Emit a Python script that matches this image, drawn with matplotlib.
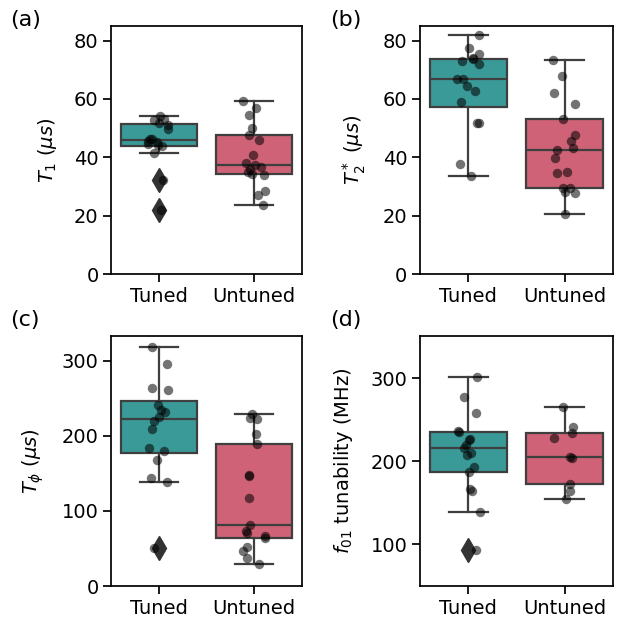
import matplotlib
matplotlib.use("Agg")
import matplotlib.pyplot as plt
import seaborn as sns
import numpy as np
import pandas as pd

categories = ["Tuned", "Untuned"]

t1_tuned = [54.3, 53.1, 52.8, 51.6, 51.2, 49.7, 46.4, 46.1, 45.7, 45.1, 44.5, 44.1, 43.8, 41.4, 32.2, 21.9]
t1_untuned = [59.4, 56.8, 54.5, 50.2, 47.8, 45.8, 40.9, 37.9, 37.2, 36.6, 35.9, 35.1, 34.3, 34.1, 28.4, 27.0, 23.7]

t2_tuned = [82.0, 77.4, 75.5, 74.0, 73.8, 72.9, 72.0, 67.0, 66.8, 64.4, 62.7, 59.0, 51.6, 51.6, 37.7, 33.7]
t2_untuned = [73.2, 68.0, 61.9, 58.4, 53.1, 47.5, 45.6, 43.3, 42.6, 39.7, 34.9, 34.5, 29.5, 29.4, 28.1, 27.8, 20.6]

tphi_tuned = [318.3, 296.0, 263.5, 261.2, 241.2, 234.5, 232.3, 224.7, 219.8, 209.1, 184.2, 180.2, 167.3, 144.5, 138.3, 50.1]
tphi_untuned = [229.2, 223.4, 222.5, 202.0, 189.5, 148.1, 146.8, 117.8, 81.7, 72.8, 70.0, 66.6, 64.4, 51.9, 46.5, 37.2, 29.6]

f01_tuned = [301.2, 278.0, 258.0, 236.4, 235.2, 227.2, 226.0, 219.2, 216.0, 210.0, 207.2, 193.2, 187.2, 166.8, 164.0, 139.2, 93.2]
f01_untuned = [265.2, 241.2, 234.0, 228.0, 205.2, 204.4, 172.4, 164.4, 154.4]

panel_labels = ["(a)", "(b)", "(c)", "(d)"]
ylabels = [r"$T_1$ ($\mu s$)", r"$T_2^*$ ($\mu s$)", r"$T_\phi$ ($\mu s$)", r"$f_{01}$ tunability (MHz)"]
ylims = [(0, 85), (0, 85), (0, 333), (50, 351)]
yticks = [[0, 20, 40, 60, 80], [0, 20, 40, 60, 80], [0, 100, 200, 300], [100, 200, 300]]

colors = ["#3a9a98", "#cf6276"]
edge = "#3f3f3f"

plt.rcParams["font.family"] = ["DejaVu Sans"]
plt.rcParams["font.size"] = 14
plt.rcParams["mathtext.fontset"] = "dejavusans"

fig = plt.figure(figsize=(6.3, 6.22), dpi=100)
rects = [
    (111, 26, 302, 274),
    (420, 26, 613, 274),
    (111, 336, 302, 586),
    (420, 336, 613, 586),
]
W, H = 630, 622
datasets = [(t1_tuned, t1_untuned), (t2_tuned, t2_untuned),
            (tphi_tuned, tphi_untuned), (f01_tuned, f01_untuned)]
label_pos = [(10, 10), (330, 10), (10, 310), (330, 310)]

for i, (r, (dt, du)) in enumerate(zip(rects, datasets)):
    x0, y0, x1, y1 = r
    ax = fig.add_axes([x0 / W, 1 - y1 / H, (x1 - x0) / W, (y1 - y0) / H])
    bp = ax.boxplot([dt, du], positions=[0, 1], widths=0.8, patch_artist=True,
                    whis=1.5, zorder=2,
                    medianprops=dict(color=edge, linewidth=1.6),
                    whiskerprops=dict(color=edge, linewidth=1.6),
                    capprops=dict(color=edge, linewidth=1.6),
                    boxprops=dict(edgecolor=edge, linewidth=1.6),
                    flierprops=dict(marker="d", markersize=12, markerfacecolor="#333333",
                                    markeredgecolor="#333333"))
    for patch, c in zip(bp["boxes"], colors):
        patch.set_facecolor(c)
    df = pd.DataFrame({"group": [categories[0]] * len(dt) + [categories[1]] * len(du),
                       "value": list(dt) + list(du)})
    np.random.seed(i + 3)
    sns.stripplot(data=df, x="group", y="value", order=categories, color="black",
                  alpha=0.55, size=6.8, jitter=0.12, ax=ax, zorder=3)
    ax.set_xlim(-0.5, 1.5)
    ax.set_xticks([0, 1])
    ax.set_xticklabels(categories)
    ax.set_xlabel("")
    ax.set_ylim(*ylims[i])
    ax.set_yticks(yticks[i])
    ax.set_ylabel(ylabels[i], fontsize=14, labelpad=11)
    ax.tick_params(length=5.5, width=1.25, labelsize=14)
    for s in ax.spines.values():
        s.set_linewidth(1.25)
    lx, ly = label_pos[i]
    fig.text(lx / W, 1 - ly / H, panel_labels[i], fontsize=16, ha="left", va="top")

fig.savefig("out.png", dpi=100)
